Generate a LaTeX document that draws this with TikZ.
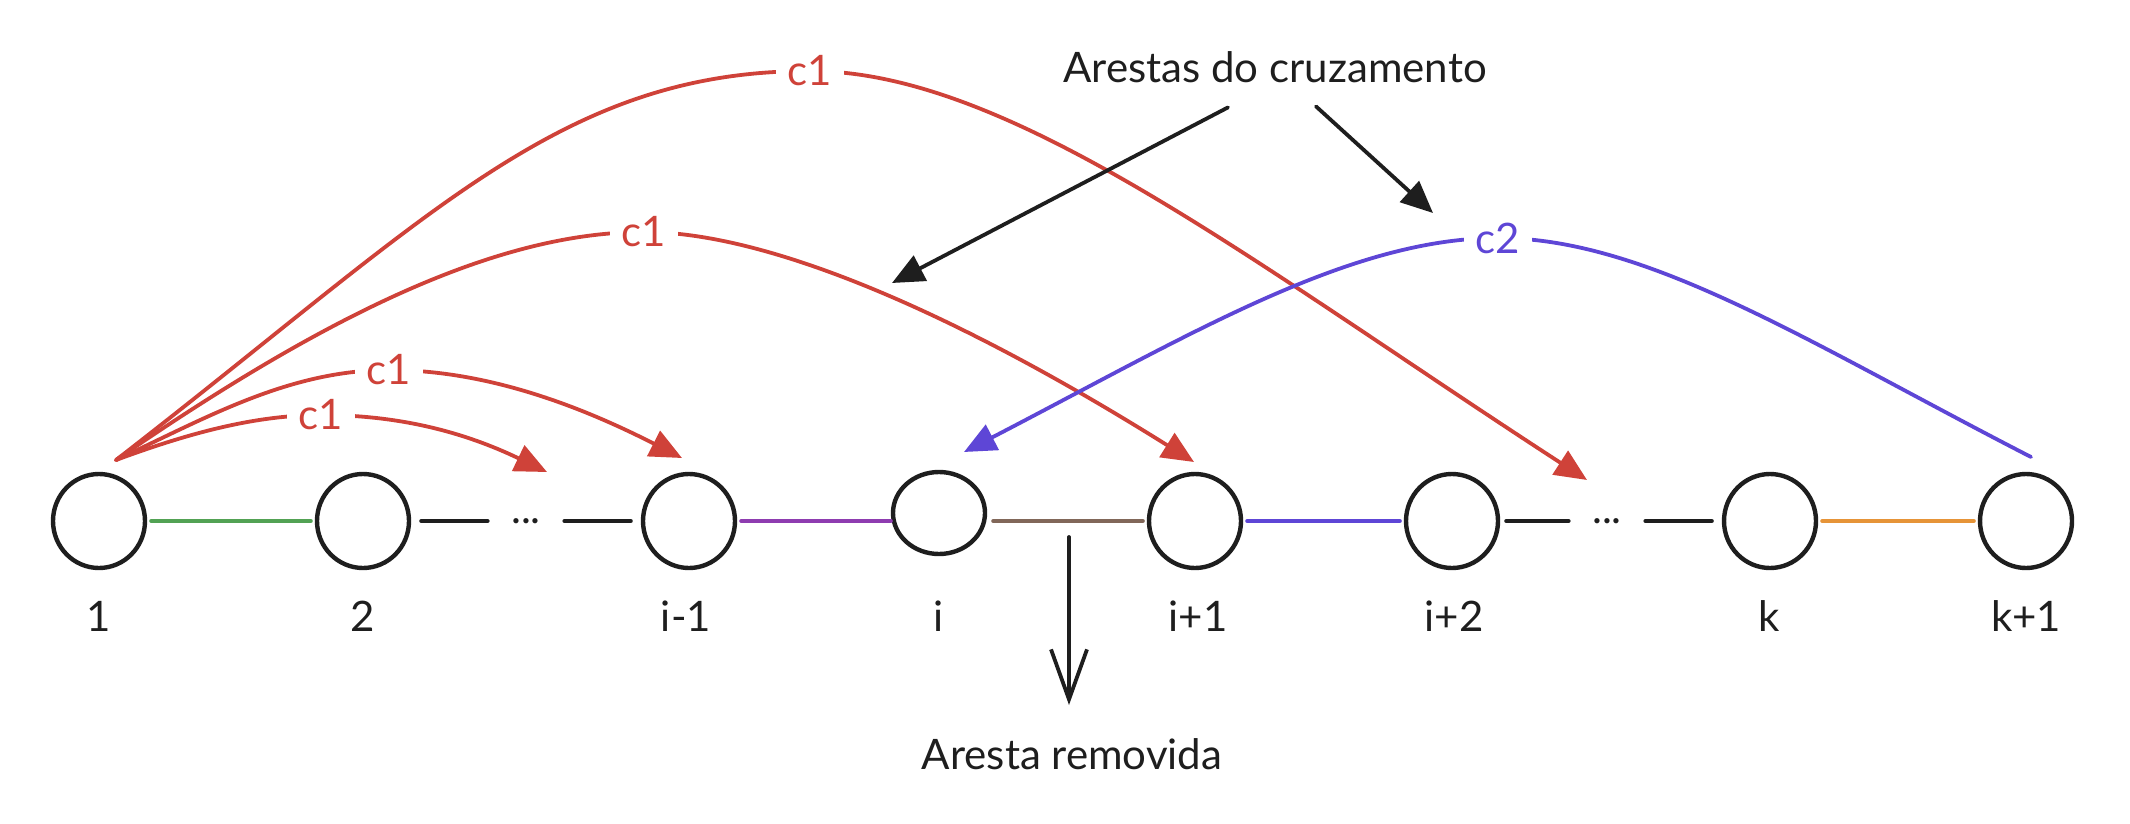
\documentclass[tikz,border=0pt]{standalone}
\usepackage{fontspec}
\setmainfont{Lato}
\usetikzlibrary{arrows.meta, calc, shapes.geometric}
\definecolor{InkBlack}{RGB}{30,30,30}
\definecolor{ArcRed}{RGB}{207,66,57}
\definecolor{ArcBlue}{RGB}{94,70,214}
\definecolor{EdgeGreen}{RGB}{82,162,84}
\definecolor{EdgePurple}{RGB}{142,60,176}
\definecolor{EdgeBrown}{RGB}{129,103,89}
\definecolor{EdgeOrange}{RGB}{230,148,56}
\tikzset{
  vertex/.style={ellipse, draw=InkBlack, line width=2.2pt, minimum width=46pt, minimum height=47pt, inner sep=0pt},
  vlabel/.style={font=\fontsize{21}{25}\selectfont, text=InkBlack, anchor=base},
  dotsnode/.style={font=\fontsize{21}{25}\selectfont, text=InkBlack, minimum width=34pt, inner sep=0pt},
  edge/.style={line width=2pt, shorten <=2pt, shorten >=2pt},
  clabel/.style={fill=white, inner xsep=6pt, inner ysep=1pt, font=\fontsize{21}{25}\selectfont},
  redarc/.style={draw=ArcRed, line width=1.9pt, -{Triangle[length=16pt,width=14pt]}},
  bluearc/.style={draw=ArcBlue, line width=1.9pt, -{Triangle[length=16pt,width=14pt]}},
  xarrow/.style={draw=InkBlack, line width=1.9pt, -{Triangle[length=16pt,width=14pt]}},
  remarrow/.style={draw=InkBlack, line width=1.9pt, -{Straight Barb[length=25pt,width=18pt]}}
}

\begin{document}
\begin{tikzpicture}[x=0.5pt, y=-0.5pt, line cap=round, line join=round]
  \useasboundingbox (0,0) rectangle (2130,824);
  % Path vertices
  \node[vertex] (n1)   at (99,521)   {};
  \node[vertex] (n2)   at (363,521)  {};
  \node[vertex] (nim1) at (689,521)  {};
  \node[vertex, minimum height=41pt] (ni) at (939,513) {};
  \node[vertex] (ni1)  at (1195,521) {};
  \node[vertex] (ni2)  at (1452,521) {};
  \node[vertex] (nk)   at (1770,521) {};
  \node[vertex] (nk1)  at (2026,521) {};
  \node[dotsnode] (d1) at (526,521)  {...};
  \node[dotsnode] (d2) at (1607,521) {...};
  % Vertex labels
  \node[vlabel] (l1)   at (99,631)   {1};
  \node[vlabel] (l2)   at (363,631)  {2};
  \node[vlabel] (lim1) at (686,631)  {i-1};
  \node[vlabel] (li)   at (939,631)  {i};
  \node[vlabel] (li1)  at (1198,631) {i+1};
  \node[vlabel] (li2)  at (1454,631) {i+2};
  \node[vlabel] (lk)   at (1769,631) {k};
  \node[vlabel] (lk1)  at (2026,631) {k+1};
  % Path edges
  \draw[edge, EdgeGreen] (n1) -- (n2);
  \draw[edge, InkBlack, shorten <=5pt] (n2) -- (d1);
  \draw[edge, InkBlack, shorten >=5pt] (d1) -- (nim1);
  \draw[edge, EdgePurple, shorten >=0pt] (nim1) -- (nim1 -| ni.west);
  \draw[edge, EdgeBrown, shorten <=3pt] (ni1 -| ni.east) -- (ni1);
  \draw[edge, ArcBlue] (ni1) -- (ni2);
  \draw[edge, InkBlack, shorten <=3pt] (ni2) -- (d2);
  \draw[edge, InkBlack, shorten >=5pt] (d2) -- (nk);
  \draw[edge, EdgeOrange] (nk) -- (nk1);
  % Arc ends
  \coordinate (src)  at (116,460);
  \coordinate (src2) at (2031,457);
  \coordinate (t1) at (1587,480);
  \coordinate (t2) at (1194,462);
  \coordinate (t3) at (682,458);
  \coordinate (t4) at (547,472);
  \coordinate (t5) at (964,452);
  % Crossing arcs
  \draw[redarc] (src) .. controls (431,216) and (560,71) .. (810,71) node[clabel, text=ArcRed] (c1a) {c1} .. controls (1010,71) and (1251,262) .. (t1);
  \draw[redarc] (src) .. controls (321,319) and (494,232) .. (644,232) node[clabel, text=ArcRed] (c1b) {c1} .. controls (760,232) and (940,303) .. (t2);
  \draw[redarc] (src) .. controls (206,418) and (289,370) .. (389,370) node[clabel, text=ArcRed] (c1c) {c1} .. controls (489,370) and (584,408) .. (t3);
  \draw[redarc] (src) .. controls (181,436) and (251,415) .. (321,415) node[clabel, text=ArcRed] (c1d) {c1} .. controls (401,415) and (466,433) .. (t4);
  \draw[bluearc] (src2) .. controls (1809,343) and (1648,238) .. (1498,238) node[clabel, text=ArcBlue] (c2a) {c2} .. controls (1348,238) and (1186,337) .. (t5);
  % Annotations
  \node[vlabel] (cross) at (1275,83) {Arestas do cruzamento};
  \coordinate (p1) at (892,283);
  \coordinate (p2) at (1433,213);
  \draw[xarrow] ($(cross.south)+(-47,17)$) -- (p1);
  \draw[xarrow] ($(cross.south)+(41,16)$) -- (p2);
  \node[vlabel] (rem) at (1072,769) {Aresta removida};
  \coordinate (cut) at ($(ni)!0.5!(ni1)+(2,20)$);
  \draw[remarrow, shorten >=13pt] (cut) -- (cut |- rem.north);
\end{tikzpicture}
\end{document}
